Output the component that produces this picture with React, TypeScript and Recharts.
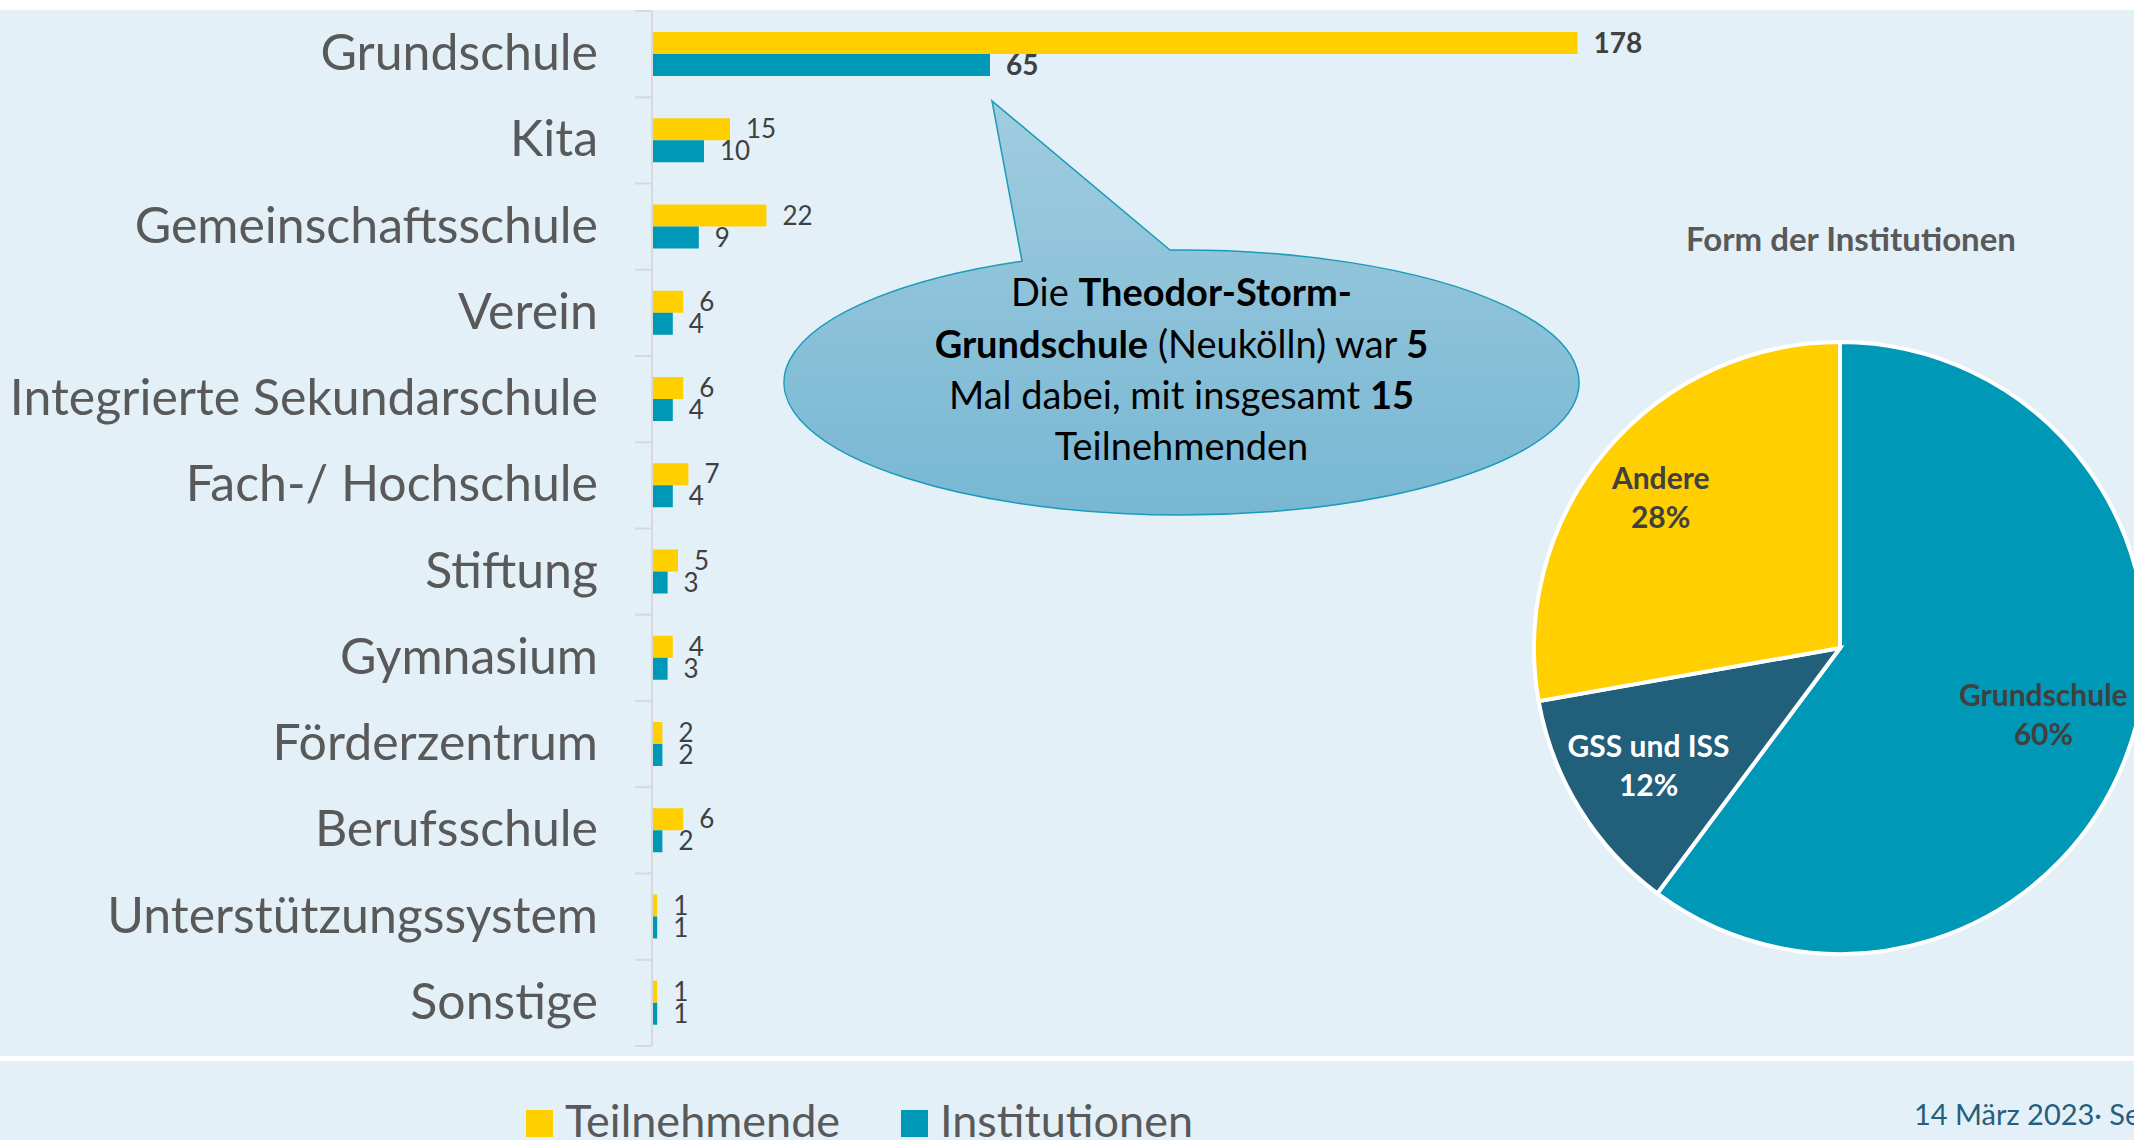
import React from 'react';
import { BarChart, Bar, XAxis, YAxis, LabelList, PieChart, Pie, Cell } from 'recharts';

const categories = [
  'Grundschule',
  'Kita',
  'Gemeinschaftsschule',
  'Verein',
  'Integrierte Sekundarschule',
  'Fach-/ Hochschule',
  'Stiftung',
  'Gymnasium',
  'Förderzentrum',
  'Berufsschule',
  'Unterstützungssystem',
  'Sonstige',
];
const teilnehmende = [178, 15, 22, 6, 6, 7, 5, 4, 2, 6, 1, 1];
const institutionen = [65, 10, 9, 4, 4, 4, 3, 3, 2, 2, 1, 1];
const seriesNames = ['Teilnehmende', 'Institutionen'];

const pieNames = ['Grundschule', 'GSS und ISS', 'Andere'];
const pieValues = [65, 13, 30];

const YELLOW = '#FFCF00';
const TEAL = '#0098B7';
const DARK = '#215F7A';
const BG = '#E3F0F8';
const FONT = 'Lato, "Open Sans", sans-serif';

const W = 2134;
const H = 1140;
const PLOT_LEFT = 652;
const PLOT_TOP = 11;
const PLOT_BOTTOM = 1046;
const BAND = (PLOT_BOTTOM - PLOT_TOP) / categories.length;

const barData = categories.map((name, i) => ({
  name,
  teilnehmende: teilnehmende[i],
  institutionen: institutionen[i],
}));
const pieData = pieNames.map((name, i) => ({ name, value: pieValues[i] }));
const pieColors = [TEAL, DARK, YELLOW];
const pieLabelColors = ['#404040', '#FFFFFF', '#404040'];
const pieLabelRadius = [0.7, 0.735, 0.765];
const seriesColors = [YELLOW, TEAL];

function CategoryTick(props: any) {
  const { y, payload, index } = props;
  const last = index === categories.length - 1;
  return (
    <g>
      <line x1={PLOT_LEFT - 17} x2={PLOT_LEFT} y1={y - BAND / 2} y2={y - BAND / 2} stroke="#D9D9D9" strokeWidth={2} />
      {last && (
        <line x1={PLOT_LEFT - 17} x2={PLOT_LEFT} y1={y + BAND / 2} y2={y + BAND / 2} stroke="#D9D9D9" strokeWidth={2} />
      )}
      <text x={PLOT_LEFT - 54} y={y} dy={16} textAnchor="end" fontSize={50} fill="#595959" fontFamily={FONT}>
        {payload.value}
      </text>
    </g>
  );
}

const valueLabel = (props: any) => {
  const { x, y, width, height, value, index } = props;
  const bold = index === 0;
  return (
    <text
      x={x + width + 16}
      y={y + height / 2}
      dy={bold ? 10 : 9}
      fontSize={bold ? 28 : 26}
      fontWeight={bold ? 700 : 400}
      fill="#404040"
      fontFamily={FONT}
    >
      {value}
    </text>
  );
};

const RAD = Math.PI / 180;
const pieLabel = (props: any) => {
  const { cx, cy, midAngle, outerRadius, percent, name, index } = props;
  const r = outerRadius * pieLabelRadius[index];
  const x = cx + r * Math.cos(-midAngle * RAD);
  const y = cy + r * Math.sin(-midAngle * RAD);
  return (
    <text x={x} y={y} textAnchor="middle" fill={pieLabelColors[index]} fontFamily={FONT} fontWeight={700} fontSize={30}>
      <tspan x={x} dy={-9}>{name}</tspan>
      <tspan x={x} dy={39}>{`${Math.round(percent * 100)}%`}</tspan>
    </text>
  );
};

// callout bubble
const EX = 1181.5;
const EY = 382.5;
const ERX = 397.5;
const ERY = 132.5;
const topOf = (x: number) => EY - ERY * Math.sqrt(1 - ((x - EX) / ERX) ** 2);
const baseL = [1022, topOf(1022)];
const baseR = [1170, topOf(1170)];
const tip = [992, 101];
const bubblePath = `M ${baseL[0]} ${baseL[1]} L ${tip[0]} ${tip[1]} L ${baseR[0]} ${baseR[1]} A ${ERX} ${ERY} 0 1 1 ${baseL[0]} ${baseL[1]} Z`;

function Overlay() {
  const t = { fontFamily: FONT, fontSize: 38, fill: '#000', textAnchor: 'middle' as const };
  return (
    <svg width={W} height={H} style={{ position: 'absolute', left: 0, top: 0, pointerEvents: 'none' }}>
      <defs>
        <linearGradient id="bubble" x1="0" y1="0" x2="0" y2="1">
          <stop offset="0%" stopColor="#A0CCDF" />
          <stop offset="100%" stopColor="#78B7D3" />
        </linearGradient>
      </defs>
      <path d={bubblePath} fill="url(#bubble)" stroke="#1A9BB8" strokeWidth={1.5} />
      <text x={EX} y={306} {...t}>
        Die <tspan fontWeight={700}>Theodor-Storm-</tspan>
      </text>
      <text x={EX} y={358} {...t}>
        <tspan fontWeight={700}>Grundschule</tspan> (Neukölln) war <tspan fontWeight={700}>5</tspan>
      </text>
      <text x={EX} y={409} {...t}>
        Mal dabei, mit insgesamt <tspan fontWeight={700}>15</tspan>
      </text>
      <text x={EX} y={460} {...t}>
        Teilnehmenden
      </text>

      <text x={1851} y={251} textAnchor="middle" fontFamily={FONT} fontWeight={700} fontSize={33} fill="#595959">
        Form der Institutionen
      </text>

      {seriesNames.map((name, i) => {
        const x0 = i === 0 ? 526 : 901;
        return (
          <g key={name}>
            <rect x={x0} y={1110} width={27} height={27} fill={seriesColors[i]} />
            <text x={x0 + 39} y={1137} fontFamily={FONT} fontSize={45} fill="#595959">
              {name}
            </text>
          </g>
        );
      })}

      <text x={1914} y={1125} fontFamily={FONT} fontSize={29} fill="#255E7E">
        14 März 2023· Seite
      </text>
    </svg>
  );
}

export default function App() {
  return (
    <div style={{ position: 'absolute', left: 0, top: 0, width: W, height: H, overflow: 'hidden', background: '#FFFFFF' }}>
      <div style={{ position: 'absolute', left: 0, top: 10, width: W, height: 1046, background: BG }} />
      <div style={{ position: 'absolute', left: 0, top: 1061, width: W, height: H - 1061, background: BG }} />

      <div style={{ position: 'absolute', left: 0, top: 0 }}>
        <BarChart
          width={1760}
          height={H}
          layout="vertical"
          data={barData}
          margin={{ top: PLOT_TOP, right: 1760 - PLOT_LEFT - 1040, bottom: H - PLOT_BOTTOM, left: 0 }}
          barGap={0}
          barSize={22}
        >
          <XAxis type="number" domain={[0, 200]} hide />
          <YAxis
            type="category"
            dataKey="name"
            width={PLOT_LEFT}
            interval={0}
            tickLine={false}
            axisLine={{ stroke: '#D9D9D9', strokeWidth: 2 }}
            tick={<CategoryTick />}
          />
          <Bar dataKey="teilnehmende" name={seriesNames[0]} fill={YELLOW} isAnimationActive={false}>
            <LabelList dataKey="teilnehmende" content={valueLabel} />
          </Bar>
          <Bar dataKey="institutionen" name={seriesNames[1]} fill={TEAL} isAnimationActive={false}>
            <LabelList dataKey="institutionen" content={valueLabel} />
          </Bar>
        </BarChart>
      </div>

      <div style={{ position: 'absolute', left: 1500, top: 160 }}>
        <PieChart width={700} height={820} margin={{ top: 0, right: 0, bottom: 0, left: 0 }}>
          <Pie
            data={pieData}
            dataKey="value"
            nameKey="name"
            cx={340}
            cy={488}
            outerRadius={306}
            startAngle={90}
            endAngle={-270}
            stroke="#FFFFFF"
            strokeWidth={4}
            label={pieLabel}
            labelLine={false}
            isAnimationActive={false}
          >
            {pieData.map((d, i) => (
              <Cell key={d.name} fill={pieColors[i]} />
            ))}
          </Pie>
        </PieChart>
      </div>

      <Overlay />
    </div>
  );
}
